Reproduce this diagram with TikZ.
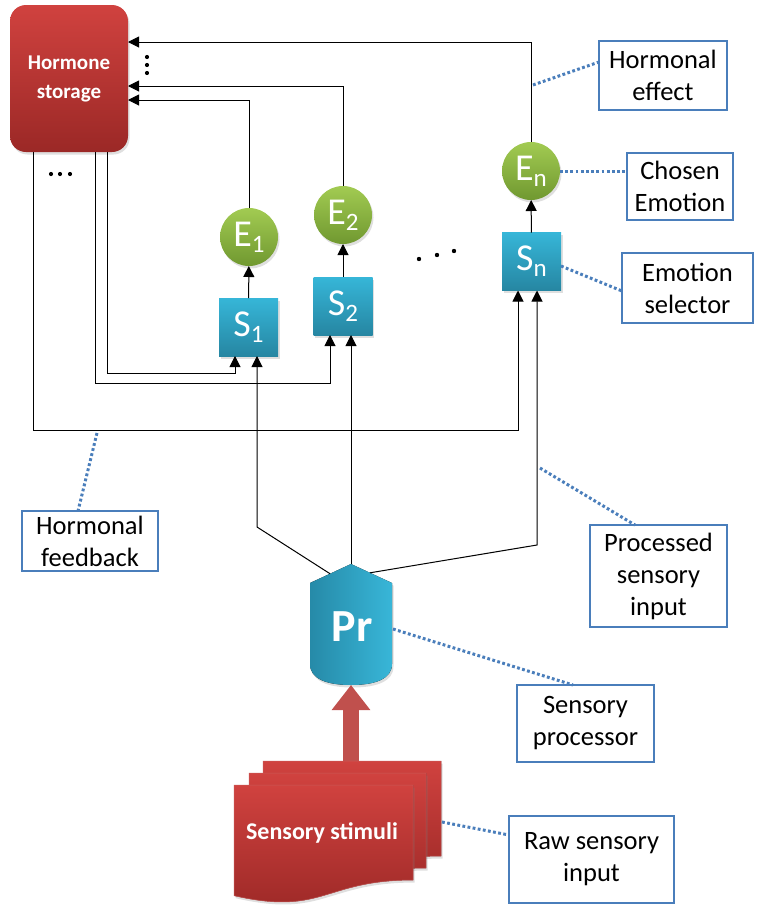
\documentclass[tikz,border=0pt]{standalone}
\usepackage{fontspec}
\setmainfont{Carlito}
\usetikzlibrary{arrows.meta,shadows}
\definecolor{lblblue}{RGB}{74,126,187}
\definecolor{redtop}{RGB}{208,66,63}
\definecolor{redbot}{RGB}{155,40,38}
\definecolor{cyantop}{RGB}{54,182,216}
\definecolor{cyanbot}{RGB}{38,134,162}
\definecolor{greentop}{RGB}{162,203,82}
\definecolor{greenbot}{RGB}{112,152,48}
\definecolor{prleft}{RGB}{38,138,168}
\definecolor{prright}{RGB}{56,182,216}
\definecolor{bigarrow}{RGB}{192,80,77}
\definecolor{docedge}{RGB}{200,90,88}
\newcommand\subtxt[2]{{\fontsize{38}{38}\selectfont #1}\raisebox{-6pt}{\fontsize{25}{25}\selectfont #2}}
\newcommand\docpath[4]{(#1,#2) -- ({#1+#3},#2) -- ({#1+#3},{#2+0.802*#4}) .. controls ({#1+0.5*#3},{#2+0.802*#4}) and ({#1+0.5*#3},{#2+1.107*#4}) .. (#1,{#2+0.934*#4}) -- cycle}
\begin{document}
\begin{tikzpicture}[x=1pt,y=-1pt,
  softshadow/.style={drop shadow={opacity=0.25,shadow xshift=1.5pt,shadow yshift=-2.5pt}},
  hbox/.style={rounded corners=16pt,minimum width=118pt,minimum height=147pt,inner sep=0pt,outer sep=0pt,
    top color=redtop,bottom color=redbot,text=white,align=center,font=\fontsize{21}{29}\selectfont\bfseries,softshadow},
  sbox/.style={minimum width=59pt,minimum height=58pt,inner sep=0pt,outer sep=0pt,
    top color=cyantop,bottom color=cyanbot,text=white,softshadow},
  ebox/.style={circle,minimum size=58pt,inner sep=0pt,outer sep=0pt,
    top color=greentop,bottom color=greenbot,text=white,softshadow},
  lbl/.style={draw=lblblue,line width=1.3pt,fill=white,align=center,inner sep=0pt,outer sep=0pt,
    font=\fontsize{26.5}{32}\selectfont},
  arr/.style={line width=1pt,-{Triangle[length=11pt,width=11pt]}},
  dotc/.style={draw=lblblue,line width=3pt,dash pattern=on 2.8pt off 2.4pt},
  dotmark/.style={fill=black,draw=none}
]
\useasboundingbox (0,0) rectangle (764,916);

% Hormone storage
\node[hbox] (hs) at (69,78.5) {Hormone\\storage};
\coordinate (h1) at (hs.east |- 0,42);
\coordinate (h2) at (hs.east |- 0,86);
\coordinate (h3) at (hs.east |- 0,100);

% selectors and emotions
\node[sbox] (S1) at (248.5,327) {\subtxt{S}{1}};
\node[sbox] (S2) at (343,306) {\subtxt{S}{2}};
\node[sbox] (Sn) at (531.5,261.5) {\subtxt{S}{n}};
\node[ebox] (E1) at (249,237) {\subtxt{E}{1}};
\node[ebox] (E2) at (343,215) {\subtxt{E}{2}};
\node[ebox] (En) at (531,171) {\subtxt{E}{n}};

% dots
\foreach \yy in {57,65,73} \fill[dotmark] (147,\yy) circle (2.1pt);
\foreach \xx in {51,60,70} \fill[dotmark] (\xx,174) circle (2.1pt);
\fill[dotmark] (419,259) circle (2.2pt);
\fill[dotmark] (437,255) circle (2.2pt);
\fill[dotmark] (454,251) circle (2.2pt);

% hormonal effect connectors
\draw[arr] (En.north) |- (h1);
\draw[arr] (E2.north) |- (h2);
\draw[arr] (E1.north) |- (h3);
\draw[arr] (S1) -- (E1);
\draw[arr] (S2) -- (E2);
\draw[arr] (Sn) -- (En);

% hormonal feedback connectors
\coordinate (f1) at (518,430);
\coordinate (f2) at (330,383);
\coordinate (f3) at (235,373);
\draw[arr] (hs.south -| 33,0) |- (f1) -- (Sn.south -| f1);
\draw[arr] (hs.south -| 95,0) |- (f2) -- (S2.south -| f2);
\draw[arr] (hs.south -| 107,0) |- (f3) -- (S1.south -| f3);

% Sensory processor
\coordinate (prpeak) at (351,564);
\coordinate (prLa) at (330,573.7);
\coordinate (prRa) at (370,572.8);
\coordinate (prRm) at (393,629);
\coordinate (prbot) at (351,685);
\fill[left color=prleft,right color=prright,softshadow]
  (310,583) -- (prpeak) -- (392,583) -- (392,664)
  .. controls (392,679) and (375,685) .. (prbot)
  .. controls (327,685) and (310,679) .. (310,664) -- cycle;
\node[text=white,font=\fontsize{46}{46}\selectfont\bfseries] (pr) at (352,627) {Pr};

\coordinate (p1) at (257,527);
\coordinate (p2) at (537,545);
\draw[arr] (prpeak) -- (S2.south -| prpeak);
\draw[arr] (prLa) -- (p1) -- (S1.south -| p1);
\draw[arr] (prRa) -- (p2) -- (Sn.south -| p2);

% big red arrow
\coordinate (stimtop) at (351,762);
\draw[bigarrow,line width=16pt,-{Triangle[length=25pt,width=37pt]}] (stimtop) -- (prbot);

% Sensory stimuli
\filldraw[top color=redtop,bottom color=redbot,draw=docedge,line width=0.5pt,softshadow] \docpath{263}{761}{178}{118.5};
\filldraw[top color=redtop,bottom color=redbot,draw=docedge,line width=0.5pt,softshadow] \docpath{249}{773}{177}{118.5};
\filldraw[top color=redtop,bottom color=redbot,draw=docedge,line width=0.5pt,softshadow] \docpath{234}{785}{179}{118.5};
\node[text=white,font=\fontsize{24}{24}\selectfont\bfseries] (stim) at (322,833) {Sensory stimuli};
\coordinate (stimR) at (442,822);

% labels
\node[lbl,minimum width=128pt,minimum height=69pt] (effect) at (663,75.5) {Hormonal\\effect};
\node[lbl,minimum width=106pt,minimum height=67pt] (chosen) at (680,186.5) {Chosen\\Emotion};
\node[lbl,minimum width=131pt,minimum height=70pt] (selector) at (687.5,288) {Emotion\\selector};
\node[lbl,minimum width=136pt,minimum height=60pt] (feedback) at (90,541) {Hormonal\\feedback};
\node[lbl,minimum width=137pt,minimum height=102pt] (processed) at (658.5,576) {Processed\\sensory\\input};
\node[lbl,minimum width=137pt,minimum height=77pt] (sproc) at (585.5,723.5) {Sensory\\processor};
\node[lbl,minimum width=165pt,minimum height=87pt] (raw) at (591.5,859.5) {Raw sensory\\input};

% dotted label connectors
\coordinate (effa) at (533,85);
\coordinate (fba) at (97,433);
\coordinate (psa) at (540,468);
\draw[dotc] (effa) -- (effect.west |- 0,62);
\draw[dotc] (En.east) -- (chosen.west |- En.east);
\draw[dotc] (Sn.east |- 0,266) -- (selector.west |- 0,291);
\draw[dotc] (fba) -- (feedback.north -| 78,0);
\draw[dotc] (psa) -- (processed.north -| 635,0);
\draw[dotc] (prRm) -- (sproc.north -| 573,0);
\draw[dotc] (stimR) -- (raw.west |- 0,835);
\end{tikzpicture}
\end{document}
